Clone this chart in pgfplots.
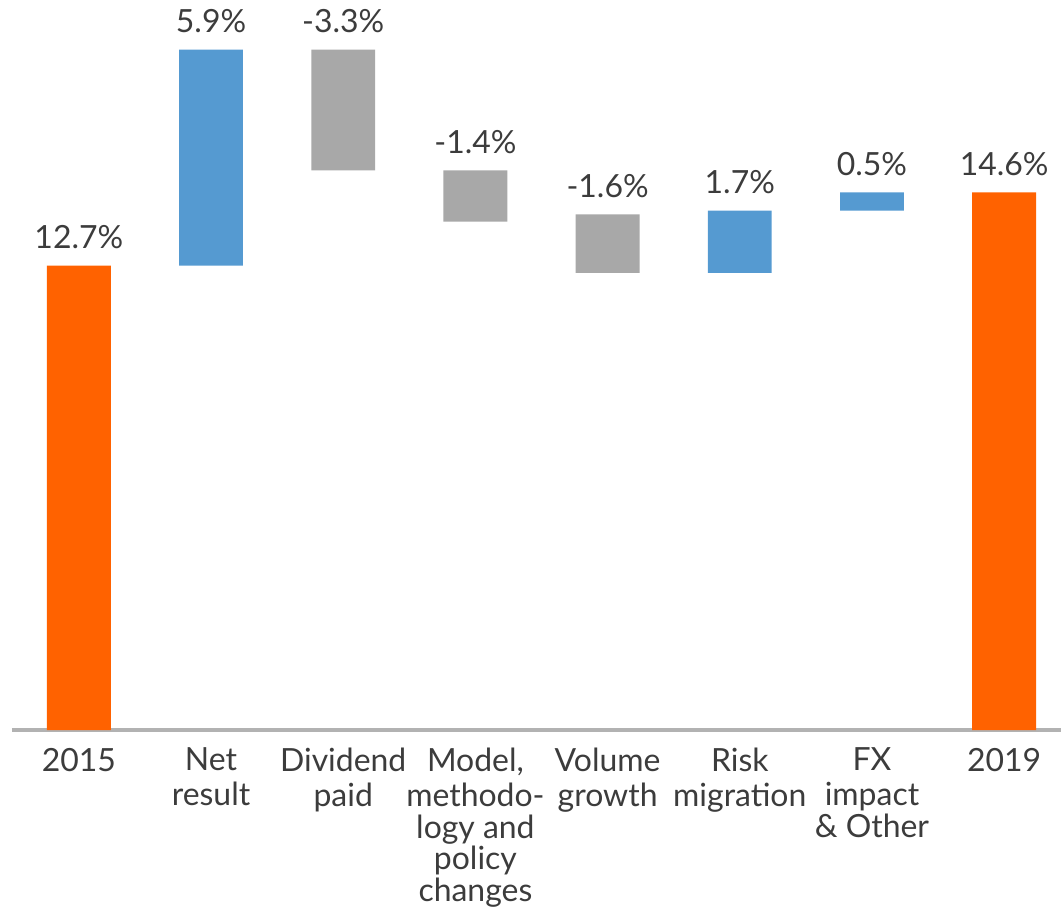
\documentclass[border=0pt]{standalone}
\usepackage{fontspec}
\setmainfont{Lato}
\usepackage{pgfplots}
\pgfplotsset{compat=1.18}
\definecolor{ingorange}{HTML}{FF6200}
\definecolor{ingblue}{HTML}{559AD1}
\definecolor{inggray}{HTML}{A8A8A8}
\definecolor{axisgray}{HTML}{B2B2B2}
\definecolor{txt}{HTML}{3C3C3C}
\pgfplotsset{common/.style={
  scale only axis, width=525.5pt, height=365.75pt,
  xmin=-0.506, xmax=7.43, ymin=0, ymax=19.96, clip=false}}
\begin{document}
\begin{tikzpicture}
\begin{axis}[
  common,
  ybar stacked, bar width=32pt,
  axis x line*=bottom, hide y axis,
  x axis line style={draw=axisgray, line width=2pt, -},
  xtick={0,...,7},
  xticklabels={{\strut 2015},{\strut Net\\result},{\strut Dividend\\paid},{\strut Model,\\methodo-\\logy and\\policy\\changes},{\strut Volume\\growth},{\strut Risk\\migration},{\strut FX\\impact\\\& Other},{\strut 2019}},
  major tick length=0pt,
  xticklabel style={align=center, font=\fontsize{16}{15.8}\selectfont, text=txt, anchor=north, inner sep=0pt, yshift=-8.75pt},
]
\addplot[draw=none, fill=none] coordinates {(0,0) (1,12.7) (2,15.3) (3,13.9) (4,12.5) (5,12.5) (6,14.2) (7,0)};
\addplot[draw=none, fill=ingorange] coordinates {(0,12.7) (1,0) (2,0) (3,0) (4,0) (5,0) (6,0) (7,14.7)};
\addplot[draw=none, fill=ingblue] coordinates {(0,0) (1,5.9) (2,0) (3,0) (4,0) (5,1.7) (6,0.5) (7,0)};
\addplot[draw=none, fill=inggray] coordinates {(0,0) (1,0) (2,3.3) (3,1.4) (4,1.6) (5,0) (6,0) (7,0)};
\path (rel axis cs:0,1) -- (rel axis cs:1,1);
\path (rel axis cs:-0.0114,0) -- (rel axis cs:0,0);
\end{axis}
\begin{axis}[common, hide axis]
\addplot[draw=none, mark=none, point meta=explicit symbolic, nodes near coords,
  nodes near coords style={anchor=base, yshift=8.4pt, inner sep=0pt, font=\fontsize{16}{16}\selectfont, text=txt}]
  coordinates {(0,12.7) [12.7\%] (1,18.6) [5.9\%] (2,18.6) [-3.3\%] (3,15.3) [-1.4\%] (4,14.1) [-1.6\%] (5,14.2) [1.7\%] (6,14.7) [0.5\%] (7,14.7) [14.6\%]};
\end{axis}
\end{tikzpicture}
\end{document}
